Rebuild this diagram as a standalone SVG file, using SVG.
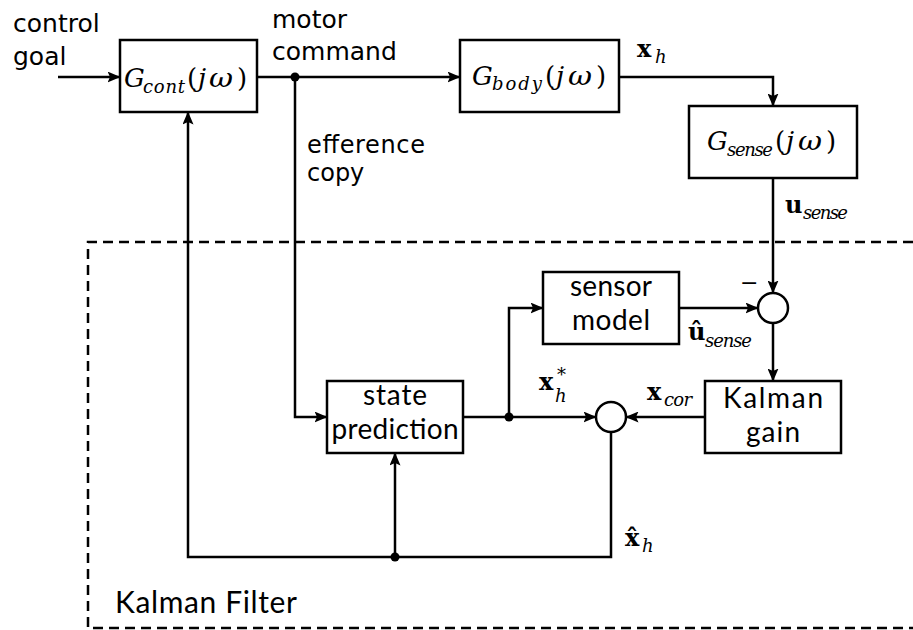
<svg xmlns="http://www.w3.org/2000/svg" width="913" height="630" viewBox="0 0 913 630">
  <defs>
    <marker id="arr" viewBox="0 0 13 11" markerWidth="13" markerHeight="11" refX="12.5" refY="5.5" orient="auto" markerUnits="userSpaceOnUse">
      <path d="M0,0 L13,5.5 L0,11 L2.5,5.5 Z" fill="#000"/>
    </marker>
    <style>
      .box { fill: #fff; stroke: #000; stroke-width: 2.5; }
      .sum { fill: #fff; stroke: #000; stroke-width: 2.5; }
      .wire { fill: none; stroke: #000; stroke-width: 2.5; }
      .arrow { marker-end: url(#arr); }
      .dot { fill: #000; }
      .dash { fill: none; stroke: #000; stroke-width: 2.5; stroke-dasharray: 10 6; }
      .lbl { font-family: "DejaVu Sans", "Liberation Sans", sans-serif; font-size: 25px; fill: #000; }
      .blk { font-family: Lato, "DejaVu Sans", sans-serif; font-size: 28px; fill: #000; text-anchor: middle; }
      .cap { font-family: Lato, "DejaVu Sans", sans-serif; font-size: 30px; fill: #000; }
      .mi { font-family: "DejaVu Serif", "Liberation Serif", serif; font-style: italic; font-size: 26px; fill: #000; }
      .mr { font-family: "DejaVu Serif", "Liberation Serif", serif; font-style: normal; font-size: 26px; fill: #000; }
      .sub { font-family: "DejaVu Serif", "Liberation Serif", serif; font-style: italic; font-size: 18px; fill: #000; }
      .vec { font-family: "DejaVu Serif", "Liberation Serif", serif; font-weight: bold; font-size: 24px; fill: #000; }
    </style>
  </defs>

  <!-- Kalman filter boundary (runs off the right edge) -->
  <path class="dash" d="M913,242 H88 V628 H913"/>
  <text class="cap" x="115" y="613" textLength="182">Kalman Filter</text>

  <!-- connectors -->
  <g id="connectors">
    <path class="wire arrow" d="M58,77 H120"/>
    <path class="wire arrow" d="M257,77 H460"/>
    <path class="wire arrow" d="M295,77 V417 H327"/>
    <path class="wire arrow" d="M619,77 H773 V106"/>
    <path class="wire arrow" d="M773,178 V293"/>
    <path class="wire arrow" d="M679,308 H758"/>
    <path class="wire arrow" d="M773,323 V381"/>
    <path class="wire arrow" d="M705,417 H626"/>
    <path class="wire arrow" d="M463,417 H596"/>
    <path class="wire arrow" d="M509,417 V308 H543"/>
    <path class="wire arrow" d="M611,432 V557 H188 V112"/>
    <path class="wire arrow" d="M395,557 V453"/>
    <circle class="dot" cx="295" cy="77" r="4.5"/>
    <circle class="dot" cx="509" cy="417" r="4.5"/>
    <circle class="dot" cx="395" cy="557" r="4.5"/>
  </g>

  <!-- signal labels -->
  <g id="labels">
    <text class="lbl"><tspan x="13" y="32">control</tspan><tspan x="13" y="65">goal</tspan></text>
    <text class="lbl"><tspan x="272" y="28">motor</tspan><tspan x="272" y="60">command</tspan></text>
    <text class="lbl" style="font-size:24px"><tspan x="307" y="153" textLength="118">efference</tspan><tspan x="307" y="181">copy</tspan></text>

    <text><tspan class="vec" x="637" y="57">x</tspan><tspan class="sub" x="655" y="63">h</tspan></text>
    <text><tspan class="vec" x="785" y="213">u</tspan><tspan class="sub" x="803" y="219" textLength="45">sense</tspan></text>
    <text><tspan class="vec" x="688" y="340">û</tspan><tspan class="sub" x="705" y="347" textLength="47">sense</tspan></text>
    <text><tspan class="vec" x="647" y="400">x</tspan><tspan class="sub" x="664" y="406" textLength="28">cor</tspan></text>
    <text><tspan class="vec" x="539" y="390">x</tspan><tspan class="sub" x="557" y="381">*</tspan><tspan class="sub" x="555" y="402">h</tspan></text>
    <text><tspan class="vec" x="625" y="546">x̂</tspan><tspan class="sub" x="642" y="552">h</tspan></text>
    <text class="lbl" x="740" y="290" style="font-size:22px">−</text>
  </g>

  <!-- blocks -->
  <g id="g-cont">
    <rect class="box" x="120" y="40" width="137" height="72"/>
    <text><tspan class="mi" x="124" y="87">G</tspan><tspan class="sub" x="143" y="93" textLength="42">cont</tspan><tspan class="mr" x="187" y="87">(</tspan><tspan class="mi" x="198" y="87">j</tspan><tspan class="mi" x="209" y="87" textLength="24" lengthAdjust="spacingAndGlyphs">ω</tspan><tspan class="mr" x="237" y="87">)</tspan></text>
  </g>
  <g id="g-body">
    <rect class="box" x="460" y="40" width="159" height="72"/>
    <text><tspan class="mi" x="472" y="85">G</tspan><tspan class="sub" x="492" y="90" textLength="50">body</tspan><tspan class="mr" x="545" y="85">(</tspan><tspan class="mi" x="556" y="85">j</tspan><tspan class="mi" x="568" y="85" textLength="24" lengthAdjust="spacingAndGlyphs">ω</tspan><tspan class="mr" x="596" y="85">)</tspan></text>
  </g>
  <g id="g-sense">
    <rect class="box" x="689" y="106" width="168" height="72"/>
    <text><tspan class="mi" x="707" y="150">G</tspan><tspan class="sub" x="727" y="156" textLength="46">sense</tspan><tspan class="mr" x="775" y="150">(</tspan><tspan class="mi" x="786" y="150">j</tspan><tspan class="mi" x="798" y="150" textLength="24" lengthAdjust="spacingAndGlyphs">ω</tspan><tspan class="mr" x="826" y="150">)</tspan></text>
  </g>
  <g id="sensor-model">
    <rect class="box" x="543" y="272" width="136" height="72"/>
    <text class="blk"><tspan x="611" y="296" textLength="82">sensor</tspan><tspan x="611" y="330" textLength="78">model</tspan></text>
  </g>
  <g id="sum-innovation">
    <circle class="sum" cx="773" cy="308" r="15"/>
  </g>
  <g id="kalman-gain">
    <rect class="box" x="705" y="381" width="136" height="72"/>
    <text class="blk"><tspan x="773" y="408" textLength="100">Kalman</tspan><tspan x="773" y="442" textLength="54">gain</tspan></text>
  </g>
  <g id="sum-correction">
    <circle class="sum" cx="611" cy="417" r="15"/>
  </g>
  <g id="state-prediction">
    <rect class="box" x="327" y="381" width="136" height="72"/>
    <text class="blk"><tspan x="395" y="405" textLength="64">state</tspan><tspan x="395" y="439" textLength="127">prediction</tspan></text>
  </g>
</svg>
